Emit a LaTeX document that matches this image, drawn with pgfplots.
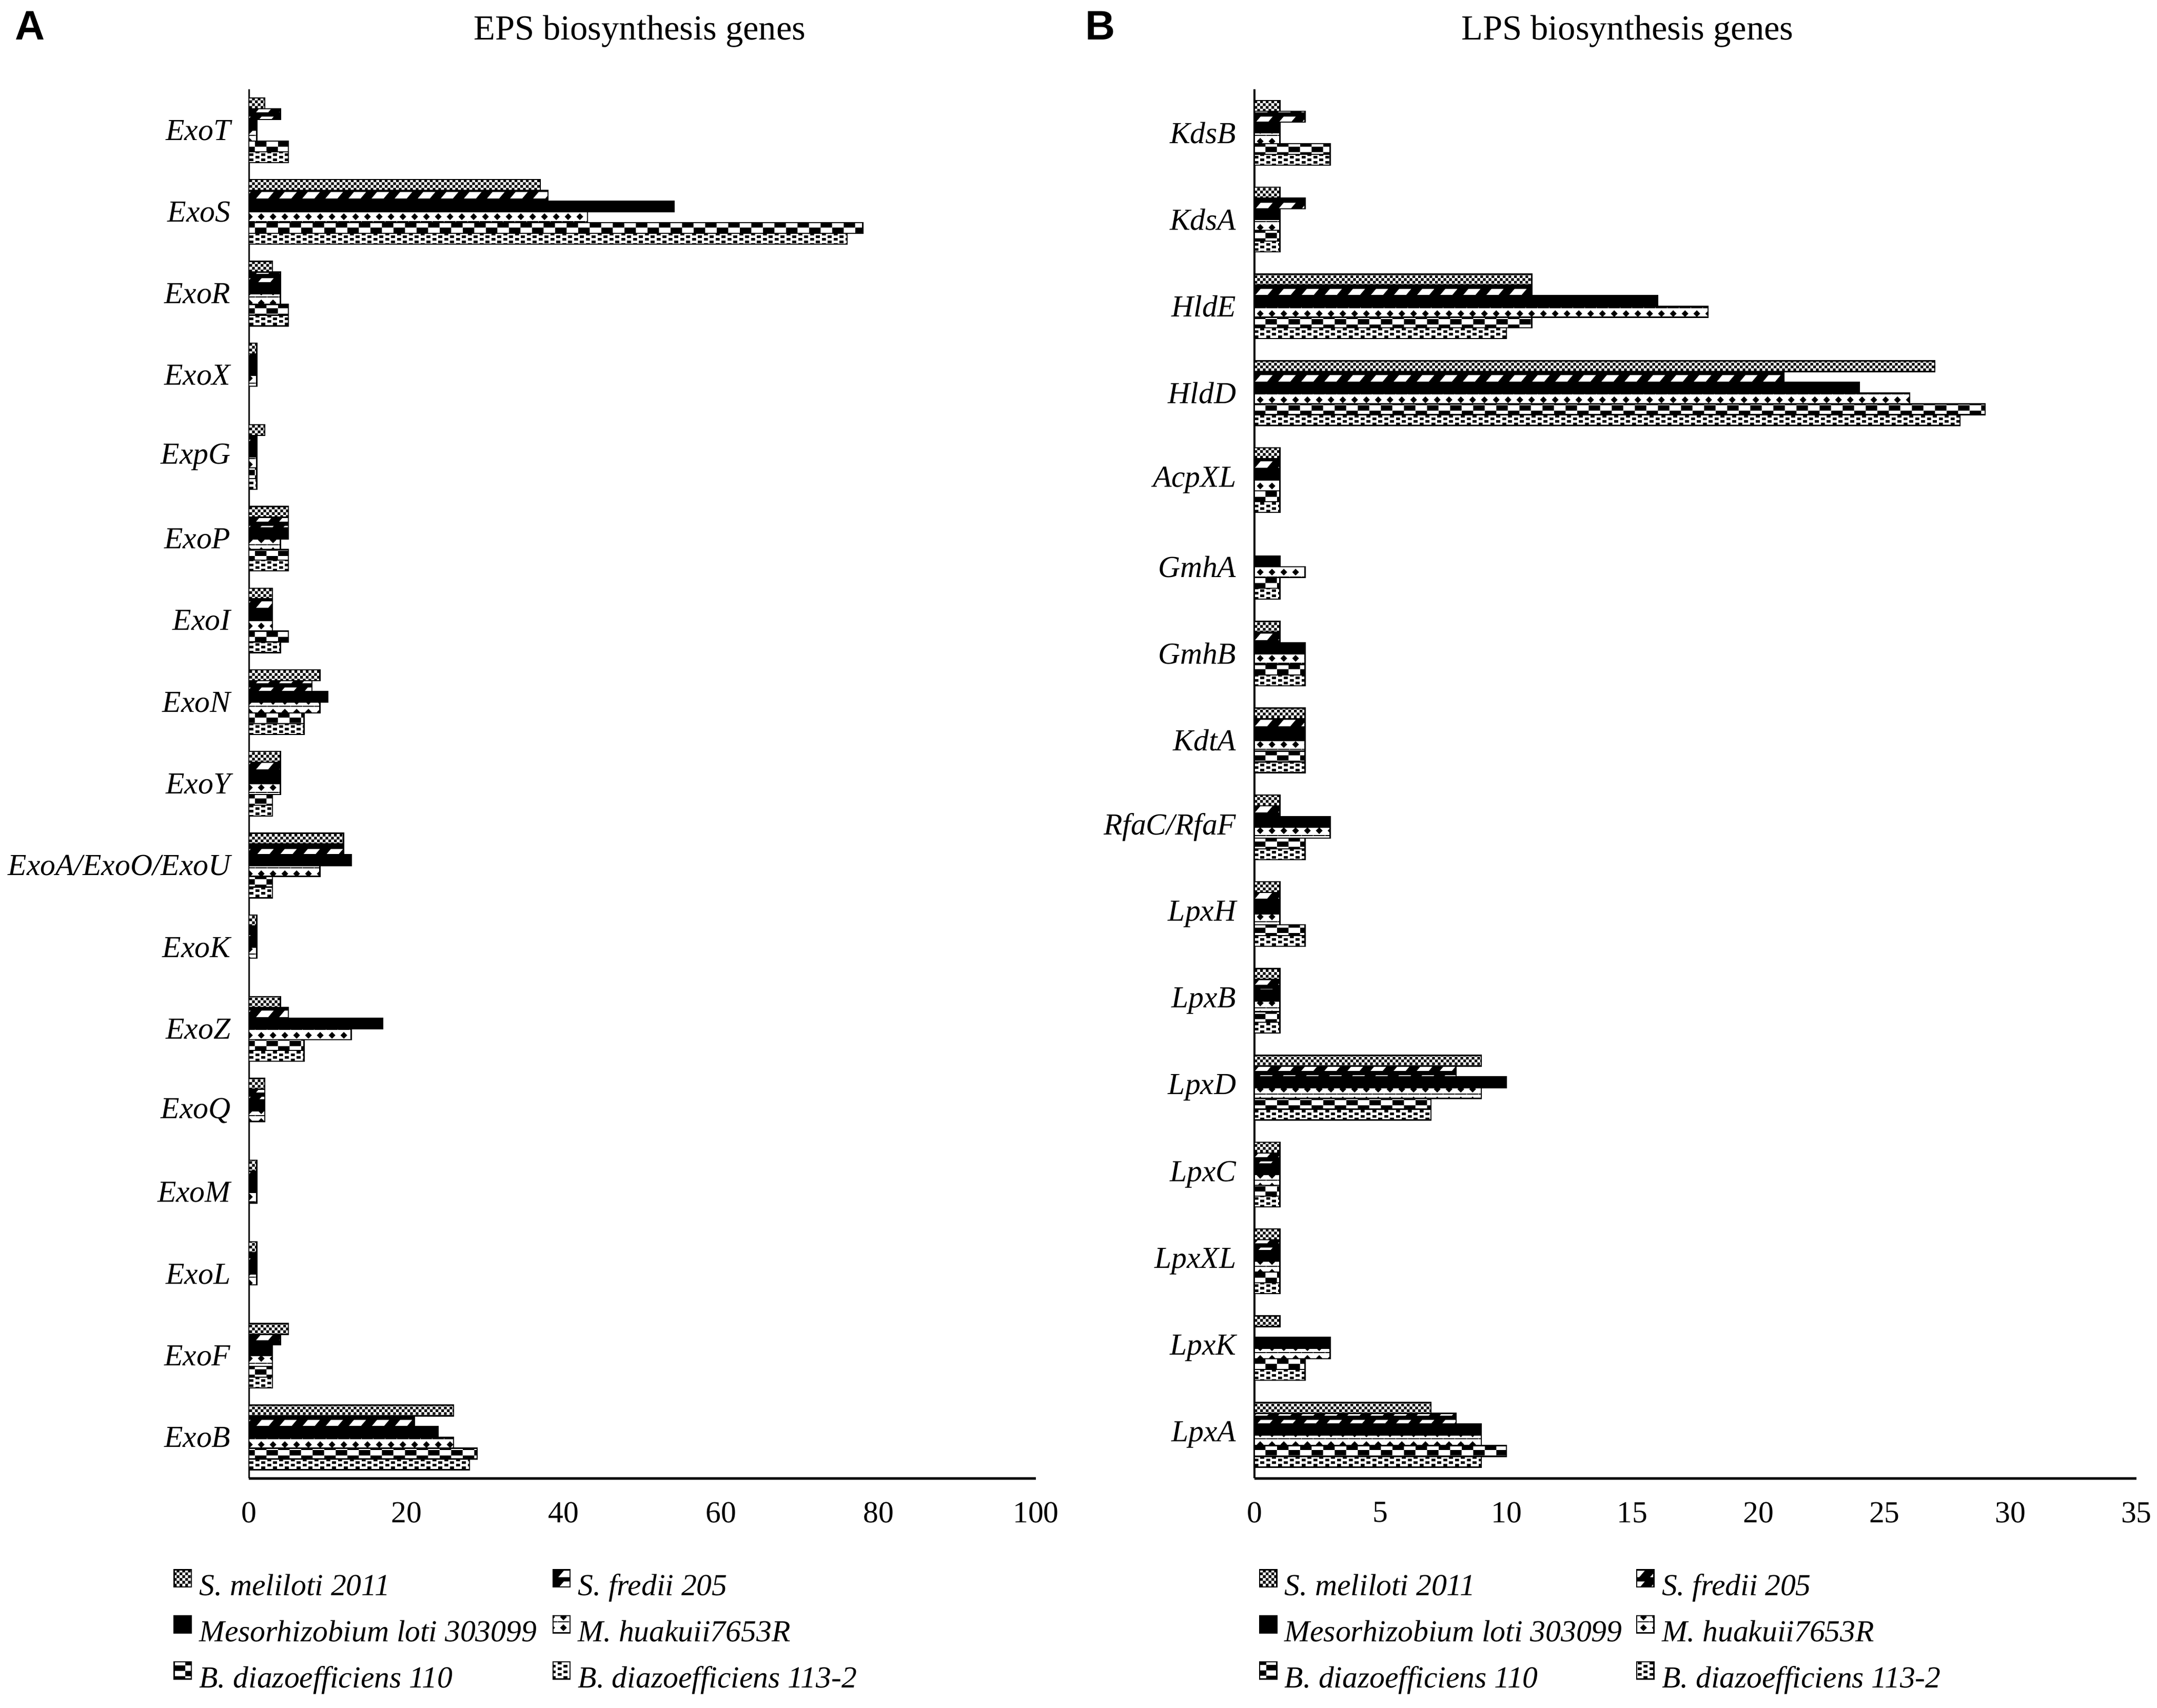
\documentclass[border=0pt]{standalone}
\usepackage{pgfplots}
\pgfplotsset{compat=1.18}
\usepackage{fontspec}
\setmainfont{Liberation Serif}
\newfontfamily\arial{Liberation Sans}
\usetikzlibrary{patterns}

\pgfdeclarepatternformonly{smel}{\pgfpointorigin}{\pgfqpoint{1.9pt}{1.9pt}}{\pgfqpoint{1.9pt}{1.9pt}}{%
 \pgfpathrectangle{\pgfpointorigin}{\pgfqpoint{0.95pt}{0.95pt}}%
 \pgfpathrectangle{\pgfqpoint{0.95pt}{0.95pt}}{\pgfqpoint{0.95pt}{0.95pt}}%
 \pgfusepath{fill}}
\pgfdeclarepatternformonly{sfred}{\pgfpointorigin}{\pgfqpoint{7.6pt}{3.52pt}}{\pgfqpoint{7.6pt}{3.52pt}}{%
 \pgfpathmoveto{\pgfqpoint{0.4pt}{0.7pt}}\pgfpathlineto{\pgfqpoint{4.4pt}{0.7pt}}%
 \pgfpathlineto{\pgfqpoint{6.2pt}{2.8pt}}\pgfpathlineto{\pgfqpoint{2.2pt}{2.8pt}}\pgfpathclose
 \pgfusepath{fill}}
\pgfdeclarepatternformonly{mhuak}{\pgfpointorigin}{\pgfqpoint{3.8pt}{3.52pt}}{\pgfqpoint{3.8pt}{3.52pt}}{%
 \pgfpathmoveto{\pgfqpoint{0.8pt}{1.76pt}}\pgfpathlineto{\pgfqpoint{1.9pt}{2.86pt}}%
 \pgfpathlineto{\pgfqpoint{3.0pt}{1.76pt}}\pgfpathlineto{\pgfqpoint{1.9pt}{0.66pt}}\pgfpathclose
 \pgfpathrectangle{\pgfpointorigin}{\pgfqpoint{3.8pt}{0.3pt}}%
 \pgfusepath{fill}}
\pgfdeclarepatternformonly{bten}{\pgfpointorigin}{\pgfqpoint{7.6pt}{3.52pt}}{\pgfqpoint{7.6pt}{3.52pt}}{%
 \pgfpathrectangle{\pgfpointorigin}{\pgfqpoint{3.8pt}{1.76pt}}%
 \pgfpathrectangle{\pgfqpoint{3.8pt}{1.76pt}}{\pgfqpoint{3.8pt}{1.76pt}}%
 \pgfusepath{fill}}
\pgfdeclarepatternformonly{btt}{\pgfpointorigin}{\pgfqpoint{3.8pt}{1.76pt}}{\pgfqpoint{3.8pt}{1.76pt}}{%
 \pgfpathrectangle{\pgfpointorigin}{\pgfqpoint{1.3pt}{0.88pt}}%
 \pgfpathrectangle{\pgfqpoint{1.9pt}{0.88pt}}{\pgfqpoint{1.3pt}{0.88pt}}%
 \pgfusepath{fill}}

\pgfplotsset{
 sA/.style={draw=black, line width=0.4pt, preaction={fill=white}, pattern=smel, pattern color=black, bar shift=8.8pt},
 sB/.style={draw=black, line width=0.4pt, preaction={fill=black}, pattern=sfred, pattern color=white, bar shift=5.28pt},
 sC/.style={draw=black, line width=0.4pt, fill=black, bar shift=1.76pt},
 sD/.style={draw=black, line width=0.4pt, preaction={fill=white}, pattern=mhuak, pattern color=black, bar shift=-1.76pt},
 sE/.style={draw=black, line width=0.4pt, preaction={fill=white}, pattern=bten, pattern color=black, bar shift=-5.28pt},
 sF/.style={draw=black, line width=0.4pt, preaction={fill=white}, pattern=btt, pattern color=black, bar shift=-8.8pt},
 common/.style={
  xbar, bar width=3.52pt,
  scale only axis, anchor=south west, height=454.5pt,
  axis lines=left, axis line style={-},
  x axis line style={line width=0.9pt}, y axis line style={line width=0.6pt},
  major tick length=0pt,
  /pgf/number format/assume math mode=true,
  tick label style={font=\fontsize{10}{12}\selectfont},
  yticklabel style={font=\fontsize{10}{12}\selectfont\itshape, xshift=-2.5pt},
  xticklabel style={yshift=-4.3pt},
  ytick distance=1,
  legend columns=2, legend cell align=left,
  legend image code/.code={\draw[##1] (0pt,0.4pt) rectangle (5.6pt,6pt);},
  legend style={draw=none, fill=none, anchor=north west, inner sep=0pt, row sep=3.4pt,
    nodes={inner sep=1pt, text height=7pt, text depth=2pt, font=\fontsize{10}{12}\selectfont\itshape},
    /tikz/every odd column/.append style={column sep=1.4pt}},
 }
}

\begin{document}
\begin{tikzpicture}
\path[use as bounding box] (0pt,0pt) rectangle (705.6pt,558.9pt);

\node[anchor=base] at (9.9pt,545.8pt) {\arial\bfseries\fontsize{13.5}{15}\selectfont A};
\node[anchor=base] at (360pt,545.8pt) {\arial\bfseries\fontsize{13.5}{15}\selectfont B};
\node[anchor=base] at (209.25pt,545.8pt) {\fontsize{11.5}{13}\selectfont EPS biosynthesis genes};
\node[anchor=base] at (532.35pt,545.8pt) {\fontsize{11.5}{13}\selectfont LPS biosynthesis genes};

% Panel A
\begin{axis}[common, at={(81.45pt,75.15pt)}, width=257.4pt,
  xmin=0, xmax=100, ymin=-0.5, ymax=16.5,
  xtick={0,20,40,60,80,100}, ytick={0,...,16},
  yticklabels={ExoB,ExoF,ExoL,ExoM,ExoQ,ExoZ,ExoK,ExoA/ExoO/ExoU,ExoY,ExoN,ExoI,ExoP,ExpG,ExoX,ExoR,ExoS,ExoT},
  legend style={at={(axis description cs:-0.0965,-0.0649)}}]
\addplot[sA] coordinates {(2,16) (37,15) (3,14) (1,13) (2,12) (5,11) (3,10) (9,9) (4,8) (12,7) (1,6) (4,5) (2,4) (1,3) (1,2) (5,1) (26,0)};
\addlegendentry{\makebox[114.5pt][l]{S. meliloti 2011}}
\addplot[sB] coordinates {(4,16) (38,15) (4,14) (1,13) (1,12) (5,11) (3,10) (8,9) (4,8) (12,7) (1,6) (5,5) (2,4) (1,3) (1,2) (4,1) (21,0)};
\addlegendentry{S. fredii 205}
\addplot[sC] coordinates {(1,16) (54,15) (4,14) (1,13) (1,12) (5,11) (3,10) (10,9) (4,8) (13,7) (1,6) (17,5) (2,4) (1,3) (1,2) (3,1) (24,0)};
\addlegendentry{\makebox[114.5pt][l]{Mesorhizobium loti 303099}}
\addplot[sD] coordinates {(1,16) (43,15) (4,14) (1,13) (1,12) (4,11) (3,10) (9,9) (4,8) (9,7) (1,6) (13,5) (2,4) (1,3) (1,2) (3,1) (26,0)};
\addlegendentry{M. huakuii7653R}
\addplot[sE] coordinates {(5,16) (78,15) (5,14) (1,12) (5,11) (5,10) (7,9) (3,8) (3,7) (7,5) (3,1) (29,0)};
\addlegendentry{\makebox[114.5pt][l]{B. diazoefficiens 110}}
\addplot[sF] coordinates {(5,16) (76,15) (5,14) (1,12) (5,11) (4,10) (7,9) (3,8) (3,7) (7,5) (3,1) (28,0)};
\addlegendentry{B. diazoefficiens 113-2}
\end{axis}

% Panel B
\begin{axis}[common, at={(410.4pt,75.15pt)}, width=288.45pt,
  xmin=0, xmax=35, ymin=-0.5, ymax=15.5,
  xtick={0,5,10,15,20,25,30,35}, ytick={0,...,15},
  yticklabels={LpxA,LpxK,LpxXL,LpxC,LpxD,LpxB,LpxH,RfaC/RfaF,KdtA,GmhB,GmhA,AcpXL,HldD,HldE,KdsA,KdsB},
  legend style={at={(axis description cs:0.0043,-0.0649)}}]
\addplot[sA] coordinates {(1,15) (1,14) (11,13) (27,12) (1,11) (1,9) (2,8) (1,7) (1,6) (1,5) (9,4) (1,3) (1,2) (1,1) (7,0)};
\addlegendentry{\makebox[114pt][l]{S. meliloti 2011}}
\addplot[sB] coordinates {(2,15) (2,14) (11,13) (21,12) (1,11) (1,9) (2,8) (1,7) (1,6) (1,5) (8,4) (1,3) (1,2) (8,0)};
\addlegendentry{S. fredii 205}
\addplot[sC] coordinates {(1,15) (1,14) (16,13) (24,12) (1,11) (1,10) (2,9) (2,8) (3,7) (1,6) (1,5) (10,4) (1,3) (1,2) (3,1) (9,0)};
\addlegendentry{\makebox[114pt][l]{Mesorhizobium loti 303099}}
\addplot[sD] coordinates {(1,15) (1,14) (18,13) (26,12) (1,11) (2,10) (2,9) (2,8) (3,7) (1,6) (1,5) (9,4) (1,3) (1,2) (3,1) (9,0)};
\addlegendentry{M. huakuii7653R}
\addplot[sE] coordinates {(3,15) (1,14) (11,13) (29,12) (1,11) (1,10) (2,9) (2,8) (2,7) (2,6) (1,5) (7,4) (1,3) (1,2) (2,1) (10,0)};
\addlegendentry{\makebox[114pt][l]{B. diazoefficiens 110}}
\addplot[sF] coordinates {(3,15) (1,14) (10,13) (28,12) (1,11) (1,10) (2,9) (2,8) (2,7) (2,6) (1,5) (7,4) (1,3) (1,2) (2,1) (9,0)};
\addlegendentry{B. diazoefficiens 113-2}
\end{axis}
\end{tikzpicture}
\end{document}
